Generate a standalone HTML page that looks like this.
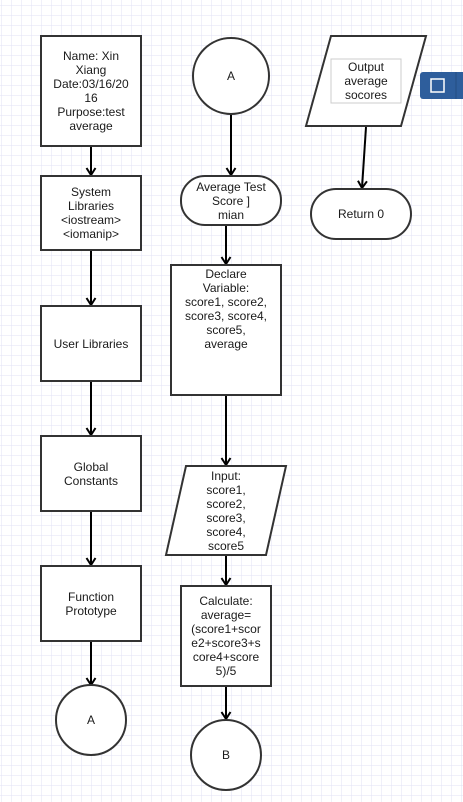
<!DOCTYPE html>
<html><head><style>
html,body{margin:0;padding:0;background:#fff;}
svg{display:block;}
text{font-family:"Liberation Sans",Arial,sans-serif;font-size:12px;fill:#1a1a1a;text-anchor:middle;}
</style></head><body>
<svg width="463" height="802" viewBox="0 0 463 802" xmlns="http://www.w3.org/2000/svg">
<defs>
<pattern id="g" x="1" y="5" width="10" height="10" patternUnits="userSpaceOnUse">
<path d="M0 0H10M0 0V10" stroke="#e2e2f4" stroke-width="1" fill="none"/>
</pattern>
<marker id="a" markerWidth="12" markerHeight="12" refX="9" refY="6" orient="auto" markerUnits="userSpaceOnUse">
<path d="M2 1.5 L9 6 L2 10.5" fill="none" stroke="#000" stroke-width="2"/>
</marker>
</defs>
<rect width="463" height="802" fill="#fff"/>
<rect width="463" height="802" fill="url(#g)"/>
<g stroke="#000" stroke-width="2" fill="none" marker-end="url(#a)">
<line x1="91" y1="147" x2="91" y2="175"/>
<line x1="91" y1="251" x2="91" y2="305"/>
<line x1="91" y1="382" x2="91" y2="435"/>
<line x1="91" y1="512" x2="91" y2="565"/>
<line x1="91" y1="642" x2="91" y2="685"/>
<line x1="231" y1="115" x2="231" y2="175"/>
<line x1="226" y1="226" x2="226" y2="264"/>
<line x1="226" y1="396" x2="226" y2="465"/>
<line x1="226" y1="556" x2="226" y2="585"/>
<line x1="226" y1="687" x2="226" y2="719"/>
<line x1="366" y1="127" x2="362" y2="188"/>
</g>
<g stroke="#333" stroke-width="2" fill="#fff">
<rect x="41" y="36" width="100" height="110"/>
<rect x="41" y="176" width="100" height="74"/>
<rect x="41" y="306" width="100" height="75"/>
<rect x="41" y="436" width="100" height="75"/>
<rect x="41" y="566" width="100" height="75"/>
<circle cx="91" cy="720" r="35"/>
<circle cx="231" cy="76" r="38"/>
<rect x="181" y="176" width="100" height="49" rx="24"/>
<rect x="171" y="265" width="110" height="130"/>
<polygon points="186,466 286,466 266,555 166,555"/>
<rect x="181" y="586" width="90" height="100"/>
<circle cx="226" cy="755" r="35"/>
<polygon points="331,36 426,36 401,126 306,126"/>
<rect x="311" y="189" width="100" height="50" rx="25"/>
</g>
<rect x="331" y="59" width="70" height="44" fill="#fff" stroke="#ccc" stroke-width="1"/>
<rect x="420" y="72" width="50" height="27" rx="3" fill="#2e5e9c"/>
<rect x="431" y="79" width="13" height="13" fill="none" stroke="#fff" stroke-width="1.5"/>
<line x1="456" y1="72" x2="456" y2="99" stroke="#244d82"/>
<text x="91" y="60">Name: Xin</text>
<text x="91" y="74">Xiang</text>
<text x="91" y="88">Date:03/16/20</text>
<text x="91" y="102">16</text>
<text x="91" y="116">Purpose:test</text>
<text x="91" y="130">average</text>
<text x="91" y="196">System</text>
<text x="91" y="210">Libraries</text>
<text x="91" y="224">&lt;iostream&gt;</text>
<text x="91" y="238">&lt;iomanip&gt;</text>
<text x="91" y="348">User Libraries</text>
<text x="91" y="471">Global</text>
<text x="91" y="485">Constants</text>
<text x="91" y="601">Function</text>
<text x="91" y="615">Prototype</text>
<text x="91" y="724">A</text>
<text x="231" y="80">A</text>
<text x="231" y="191">Average Test</text>
<text x="231" y="205">Score ]</text>
<text x="231" y="219">mian</text>
<text x="226" y="278">Declare</text>
<text x="226" y="292">Variable:</text>
<text x="226" y="306">score1, score2,</text>
<text x="226" y="320">score3, score4,</text>
<text x="226" y="334">score5,</text>
<text x="226" y="348">average</text>
<text x="226" y="480">Input:</text>
<text x="226" y="494">score1,</text>
<text x="226" y="508">score2,</text>
<text x="226" y="522">score3,</text>
<text x="226" y="536">score4,</text>
<text x="226" y="550">score5</text>
<text x="226" y="605">Calculate:</text>
<text x="226" y="619">average=</text>
<text x="226" y="633">(score1+scor</text>
<text x="226" y="647">e2+score3+s</text>
<text x="226" y="661">core4+score</text>
<text x="226" y="675">5)/5</text>
<text x="226" y="759">B</text>
<text x="366" y="71">Output</text>
<text x="366" y="85">average</text>
<text x="366" y="99">socores</text>
<text x="361" y="218">Return 0</text>
</svg>
</body></html>
